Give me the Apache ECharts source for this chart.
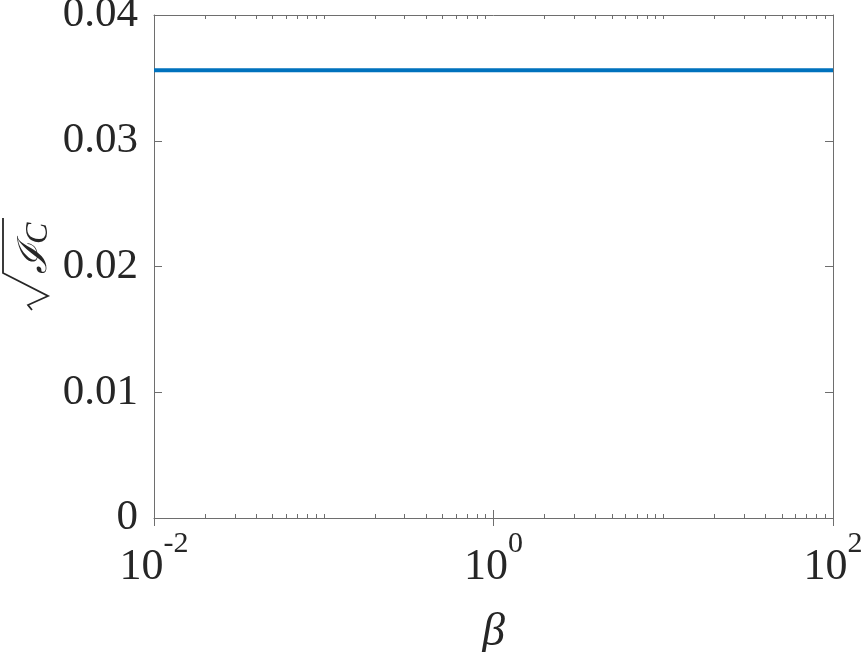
<!DOCTYPE html>
<html>
<head>
<meta charset="utf-8">
<script src="https://cdn.jsdelivr.net/npm/echarts@6/dist/echarts.min.js"></script>
<style>
  html, body { margin: 0; padding: 0; background: #fff; }
  #chart { width: 864px; height: 652px; }
</style>
</head>
<body>
<div id="chart"></div>
<script>
// data
const beta = [0.01, 0.1, 1, 10, 100];
const sqrtIC = [0.0356, 0.0356, 0.0356, 0.0356, 0.0356];

// tick positions
const xMajorTicks = [0.01, 1, 100];
const xMinorTicks = [
  0.02, 0.03, 0.04, 0.05, 0.06, 0.07, 0.08, 0.09, 0.1,
  0.2, 0.3, 0.4, 0.5, 0.6, 0.7, 0.8, 0.9,
  2, 3, 4, 5, 6, 7, 8, 9, 10,
  20, 30, 40, 50, 60, 70, 80, 90
];

const FONT = '"Liberation Serif", "Times New Roman", serif';
const TXT = '#262626';
const AX = '#6e6e6e';

const chart = echarts.init(document.getElementById('chart'));

function expLabel(v) {
  const e = Math.round(Math.log10(v));
  return '{b|10}{s|' + e + '}';
}

const xBase = {
  type: 'log',
  logBase: 10,
  min: 0.01,
  max: 100,
  splitLine: {show: false},
  axisLine: {show: false},
  axisLabel: {show: false},
};

const options = {
  backgroundColor: '#fff',
  animation: false,
  grid: {left: 154, right: 31, top: 15, bottom: 134, outerBoundsMode: 'none', containLabel: false},
  xAxis: [
    Object.assign({}, xBase, {
      position: 'bottom',
      axisLine: {show: true, onZero: false, lineStyle: {color: AX, width: 1}},
      axisTick: {inside: true, length: 4, customValues: xMinorTicks, lineStyle: {color: AX}},
      axisLabel: {
        show: true,
        customValues: xMajorTicks,
        margin: 11,
        formatter: expLabel,
        rich: {
          b: {fontFamily: FONT, fontSize: 44, color: TXT, verticalAlign: 'bottom'},
          s: {fontFamily: FONT, fontSize: 30, color: TXT, verticalAlign: 'bottom', padding: [0, 0, 30, 0]}
        }
      },
      name: 'β',
      nameLocation: 'middle',
      nameGap: 92,
      nameTextStyle: {fontFamily: FONT, fontStyle: 'italic', fontSize: 46, color: TXT}
    }),
    Object.assign({}, xBase, {
      position: 'bottom',
      axisTick: {inside: true, length: 8, customValues: xMajorTicks, lineStyle: {color: AX}}
    }),
    Object.assign({}, xBase, {
      position: 'top',
      axisLine: {show: true, onZero: false, lineStyle: {color: AX, width: 1}},
      axisTick: {inside: true, length: 4, customValues: xMinorTicks, lineStyle: {color: AX}}
    }),
    Object.assign({}, xBase, {
      position: 'top',
      axisTick: {inside: true, length: 8, customValues: xMajorTicks, lineStyle: {color: AX}}
    })
  ],
  yAxis: [
    {
      type: 'value',
      position: 'left',
      min: 0,
      max: 0.04,
      interval: 0.01,
      splitLine: {show: false},
      axisLine: {show: true, onZero: false, lineStyle: {color: AX, width: 1}},
      axisTick: {inside: true, length: 8, lineStyle: {color: AX}},
      axisLabel: {
        margin: 16,
        fontFamily: FONT,
        fontSize: 43,
        color: TXT,
        padding: [8, 0, 0, 0],
        formatter: v => (v === 0 ? '0' : v.toFixed(2))
      }
    },
    {
      type: 'value',
      position: 'right',
      min: 0,
      max: 0.04,
      interval: 0.01,
      splitLine: {show: false},
      axisLine: {show: true, onZero: false, lineStyle: {color: AX, width: 1}},
      axisTick: {inside: true, length: 8, lineStyle: {color: AX}},
      axisLabel: {show: false}
    }
  ],
  // y axis title: sqrt(I_C), drawn as rotated text + radical sign
  graphic: [{
    type: 'group',
    x: 50,
    y: 310,
    rotation: Math.PI / 2,
    children: [
      {
        type: 'polyline',
        shape: {points: [[0, -18], [5, -22], [14, -2], [37, -47], [92, -47]]},
        style: {stroke: TXT, lineWidth: 1.8, fill: null}
      },
      {
        type: 'text',
        x: 36,
        y: 6,
        style: {text: 'ℐ', font: 'italic 40px "DejaVu Serif"', fill: TXT, verticalAlign: 'bottom'}
      },
      {
        type: 'text',
        x: 66,
        y: 5,
        style: {text: 'C', font: 'italic 32px "Liberation Serif"', fill: TXT, verticalAlign: 'bottom'}
      }
    ]
  }],
  series: [{
    name: 'sqrtIC',
    type: 'line',
    xAxisIndex: 0,
    yAxisIndex: 0,
    data: beta.map((b, i) => [b, sqrtIC[i]]),
    showSymbol: false,
    lineStyle: {color: '#0072BD', width: 4}
  }]
};

chart.setOption(options);
</script>
</body>
</html>
